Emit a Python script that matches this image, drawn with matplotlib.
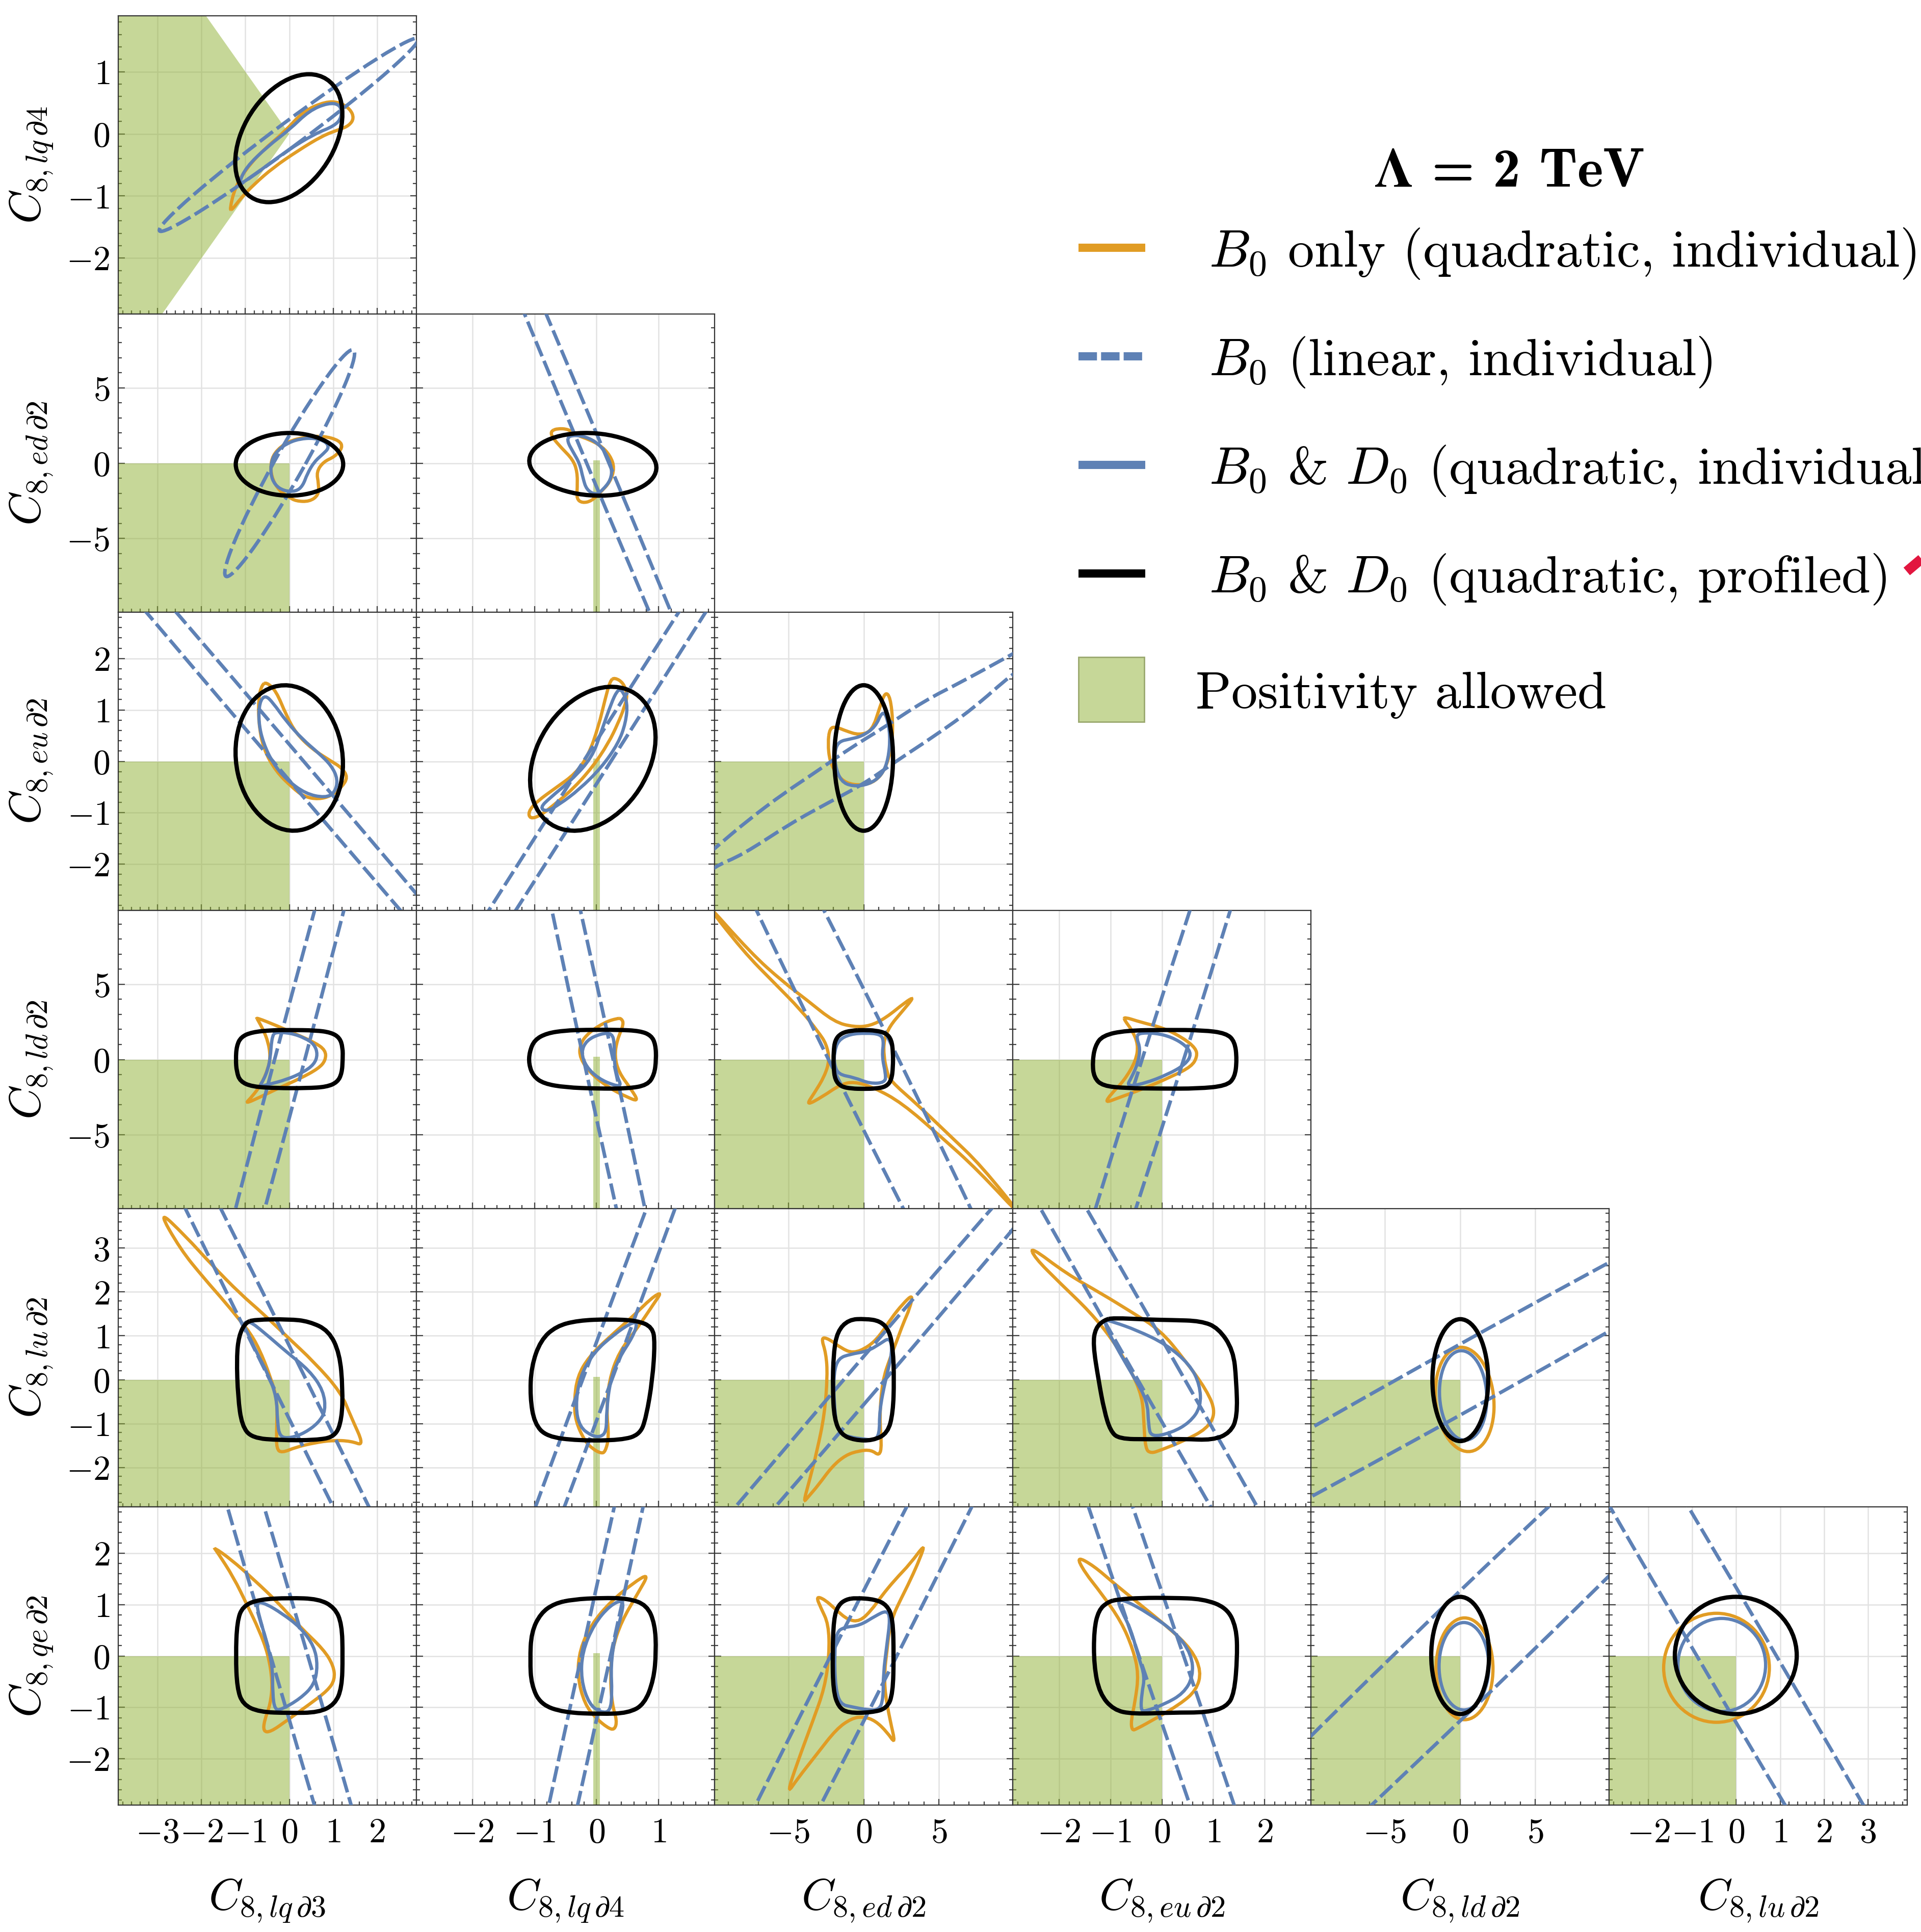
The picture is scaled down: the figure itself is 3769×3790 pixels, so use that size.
import numpy as np
import matplotlib
matplotlib.use('Agg')
import matplotlib.pyplot as plt
from matplotlib.path import Path
from matplotlib.patches import PathPatch, Ellipse, Polygon, Rectangle
from matplotlib.lines import Line2D
from matplotlib.ticker import MultipleLocator, FuncFormatter
from matplotlib.colors import to_rgba

plt.rcParams['mathtext.fontset'] = 'cm'
plt.rcParams['font.family'] = 'cmr10'
plt.rcParams['axes.unicode_minus'] = False

ORANGE = '#E19C24'
BLUE = '#5E81B5'
GREEN = '#8FB032'

# operators on the axes, plot ranges and major tick steps
x_names = [r'lq\,\partial 3', r'lq\,\partial 4', r'ed\,\partial 2', r'eu\,\partial 2', r'ld\,\partial 2', r'lu\,\partial 2']
y_names = [r'lq\,\partial 4', r'ed\,\partial 2', r'eu\,\partial 2', r'ld\,\partial 2', r'lu\,\partial 2', r'qe\,\partial 2']
x_lims = [(-3.9, 2.9), (-2.9, 1.9), (-9.9, 9.9), (-2.9, 2.9), (-9.9, 9.9), (-2.9, 3.9)]
y_lims = [(-2.9, 1.9), (-9.9, 9.9), (-2.9, 2.9), (-9.9, 9.9), (-2.9, 3.9), (-2.9, 2.9)]
x_major = [1, 1, 5, 1, 5, 1]
y_major = [1, 5, 1, 5, 1, 1]

# positivity: cone for (lq3, lq4), thin strip where lq4 = 0, otherwise both <= 0
cone = [(-5.0, 5.0), (0.0, 0.0), (-5.0, -5.0)]
strip_half = 0.05

# B0 only (quadratic, individual) contours
b0_quad = {
    (0, 0): [(-1.36, -1.22), (-1.24, -0.87), (-0.99, -0.57), (-0.61, -0.27), (-0.11, 0.03), (0.33, 0.37),
             (0.83, 0.52), (1.14, 0.51), (1.39, 0.40), (1.48, 0.25), (1.36, 0.13), (1.14, 0.07), (0.76, -0.03),
             (0.2, -0.27), (-0.36, -0.54), (-0.8, -0.81), (-1.11, -1.04), (-1.3, -1.22)],
    (1, 0): [(0.36, 1.73), (0.78, 1.81), (1.15, 1.5), (1.22, 1.03), (1.04, 0.43), (0.78, 0.09), (0.62, -0.58),
             (0.67, -1.38), (0.67, -2.12), (0.46, -2.56), (0.15, -2.52), (-0.01, -2.25), (-0.22, -1.85),
             (-0.38, -1.11), (-0.43, -0.31), (-0.38, 0.5), (-0.17, 1.16), (0.04, 1.5)],
    (1, 1): [(-0.64, 2.3), (-0.45, 2.26), (-0.31, 1.83), (-0.12, 1.57), (0.07, 1.16), (0.22, 0.5), (0.29, -0.31),
             (0.22, -1.24), (0.07, -1.91), (-0.08, -2.52), (-0.23, -2.65), (-0.32, -2.38), (-0.31, -1.65),
             (-0.31, -0.58), (-0.38, 0.23), (-0.57, 1.03), (-0.71, 1.7), (-0.74, 2.1)],
    (2, 0): [(-0.52, 1.54), (-0.3, 1.37), (-0.07, 0.9), (0.15, 0.55), (0.52, 0.24), (0.96, 0.0), (1.19, -0.12),
             (1.34, -0.31), (1.19, -0.51), (0.96, -0.67), (0.67, -0.74), (0.34, -0.69), (0.07, -0.51),
             (-0.3, -0.2), (-0.59, 0.24), (-0.7, 0.75), (-0.7, 1.25), (-0.62, 1.49)],
    (2, 1): [(0.29, 1.63), (0.43, 1.53), (0.5, 1.29), (0.45, 1.06), (0.35, 0.75), (0.19, 0.35), (-0.07, -0.12),
             (-0.39, -0.55), (-0.7, -0.86), (-0.91, -1.06), (-1.07, -1.12), (-1.1, -0.98), (-0.96, -0.78),
             (-0.65, -0.51), (-0.34, -0.24), (-0.13, 0.12), (0.03, 0.67), (0.14, 1.22), (0.22, 1.57)],
    (2, 2): [(-2.25, 0.65), (-1.82, 0.67), (-1.17, 0.59), (-0.3, 0.51), (0.56, 0.59), (1.08, 1.06), (1.43, 1.35),
             (1.77, 1.25), (1.95, 0.75), (1.86, 0.27), (1.43, -0.16), (0.78, -0.39), (-0.09, -0.47),
             (-1.17, -0.43), (-1.82, -0.24), (-2.25, 0.0), (-2.38, 0.35)],
    (3, 0): [(-0.75, 2.79), (-0.27, 2.23), (0.15, 1.69), (0.57, 1.15), (0.83, 0.62), (0.83, -0.05), (0.67, -0.59),
             (0.25, -1.26), (-0.27, -1.93), (-0.69, -2.53), (-1.01, -2.94), (-0.85, -2.47), (-0.64, -1.66),
             (-0.48, -0.59), (-0.43, 0.21), (-0.48, 1.15), (-0.59, 1.96), (-0.72, 2.65)],
    (3, 1): [(0.4, 2.73), (0.44, 2.36), (0.33, 1.29), (0.29, 0.21), (0.36, -0.86), (0.55, -1.93), (0.68, -2.8),
             (0.48, -2.47), (0.22, -1.93), (-0.08, -0.99), (-0.27, 0.08), (-0.27, 1.02), (-0.12, 1.82),
             (0.14, 2.49), (0.33, 2.73)],
    (3, 2): [(3.37, 4.17), (2.53, 3.16), (1.74, 2.23), (1.34, 1.29), (1.34, 0.21), (1.53, -0.72), (1.74, -1.39),
             (3.58, -3.0), (5.68, -5.01), (7.79, -7.02), (10.9, -10.9), (7.53, -7.29), (5.16, -5.15),
             (2.53, -2.87), (0.68, -1.86), (-0.63, -1.46), (-1.55, -1.66), (-2.74, -2.47), (-3.84, -3.07),
             (-3.26, -2.2), (-2.61, -1.13), (-2.26, -0.05), (-2.47, 1.02), (-3.0, 1.82), (-4.18, 3.3),
             (-5.89, 5.04), (-8.0, 7.18), (-10.9, 10.9), (-7.47, 7.05), (-5.37, 5.17), (-3.79, 3.97),
             (-1.95, 2.49), (-0.63, 2.16), (0.42, 2.23), (1.47, 2.76), (2.79, 3.83)],
    (3, 3): [(-0.73, 2.83), (-0.42, 2.49), (0.04, 2.09), (0.42, 1.42), (0.66, 0.75), (0.69, 0.21), (0.58, -0.46),
             (0.19, -1.13), (-0.35, -1.93), (-0.89, -2.6), (-1.1, -2.87), (-1.0, -2.33), (-0.73, -1.39),
             (-0.5, -0.05), (-0.46, 1.02), (-0.58, 1.96), (-0.73, 2.63)],
    (4, 0): [(-3.0, 3.88), (-2.38, 3.29), (-1.75, 2.6), (-1.12, 1.96), (-0.59, 1.5), (-0.06, 0.99), (0.57, 0.4),
             (1.18, -0.29), (1.41, -0.85), (1.71, -1.51), (1.41, -1.4), (0.99, -1.38), (0.57, -1.44),
             (0.15, -1.54), (-0.17, -1.67), (-0.29, -1.58), (-0.29, -1.17), (-0.27, -0.48), (-0.43, 0.07),
             (-0.69, 0.72), (-0.91, 1.09), (-1.06, 1.27), (-1.43, 1.73), (-1.96, 2.33), (-2.48, 2.97)],
    (4, 1): [(1.05, 2.0), (0.92, 1.73), (0.66, 1.18), (0.36, 0.63), (0.2, -0.02), (0.16, -0.71), (0.2, -1.31),
             (0.14, -1.65), (0.07, -1.68), (-0.06, -1.58), (-0.19, -1.4), (-0.34, -0.94), (-0.36, -0.48),
             (-0.31, 0.07), (-0.12, 0.53), (0.22, 0.99), (0.59, 1.45), (0.89, 1.87)],
    (4, 2): [(3.27, 1.95), (3.08, 1.64), (2.61, 1.27), (2.22, 0.9), (1.75, 0.49), (1.25, -0.02), (1.05, -0.85),
             (1.2, -1.5), (1.05, -1.74), (0.5, -1.6), (-0.3, -1.62), (-1.2, -1.72), (-2.1, -1.98), (-3.0, -2.4),
             (-3.7, -2.68), (-4.0, -2.8), (-3.6, -2.3), (-3.1, -1.63), (-2.6, -0.8), (-2.4, 0.1), (-2.5, 0.6),
             (-2.84, 0.97), (-2.3, 0.93), (-1.5, 0.72), (-0.7, 0.6), (0.27, 0.74), (1.05, 0.99), (1.83, 1.4),
             (2.6, 1.73)],
    (4, 3): [(-2.56, 3.04), (-1.86, 2.42), (-1.17, 1.96), (-0.6, 1.55), (-0.03, 1.13), (0.42, 0.49), (0.88, -0.25),
             (1.05, -0.75), (0.88, -1.12), (0.42, -1.4), (-0.03, -1.61), (-0.21, -1.68), (-0.32, -1.58),
             (-0.35, -0.94), (-0.38, -0.39), (-0.6, 0.21), (-0.95, 0.9), (-1.4, 1.55), (-1.97, 2.19),
             (-2.48, 2.79)],
    (5, 0): [(-1.73, 2.12), (-1.33, 1.88), (-0.8, 1.48), (-0.27, 1.05), (0.25, 0.56), (0.78, 0.13), (1.01, -0.19),
             (1.04, -0.46), (0.88, -0.67), (0.46, -0.94), (-0.06, -1.26), (-0.43, -1.48), (-0.59, -1.47),
             (-0.57, -1.26), (-0.43, -0.94), (-0.38, -0.51), (-0.48, 0.03), (-0.69, 0.51), (-0.96, 0.99),
             (-1.27, 1.53), (-1.64, 2.02)],
    (5, 1): [(0.85, 1.61), (0.66, 1.21), (0.4, 0.67), (0.25, 0.13), (0.22, -0.4), (0.25, -0.94), (0.33, -1.26),
             (0.29, -1.44), (0.18, -1.4), (-0.01, -1.21), (-0.19, -0.94), (-0.31, -0.4), (-0.27, 0.13),
             (-0.08, 0.62), (0.22, 1.05), (0.59, 1.42)],
    (5, 2): [(4.07, 2.18), (3.76, 1.91), (3.11, 1.48), (2.46, 1.1), (1.94, 0.78), (1.68, 0.46), (1.55, 0.1),
             (1.38, -0.3), (1.42, -0.73), (1.76, -1.26), (2.12, -1.72), (1.55, -1.48), (0.78, -1.26), (0.0, -1.18),
             (-0.78, -1.21), (-1.81, -1.42), (-3.11, -1.91), (-4.4, -2.39), (-5.1, -2.69), (-4.4, -2.07),
             (-3.37, -1.26), (-2.59, -0.62), (-2.28, 0.03), (-2.33, 0.62), (-2.85, 0.94), (-3.16, 1.16),
             (-2.59, 1.1), (-1.81, 0.89), (-1.04, 0.7), (-0.26, 0.67), (0.52, 0.89), (1.17, 1.16), (2.07, 1.48),
             (3.11, 1.8)],
    (5, 3): [(-1.66, 1.94), (-1.32, 1.75), (-0.94, 1.42), (-0.41, 0.99), (0.12, 0.56), (0.58, 0.13), (0.77, -0.3),
             (0.67, -0.67), (0.35, -0.94), (-0.11, -1.21), (-0.49, -1.42), (-0.58, -1.45), (-0.6, -1.26),
             (-0.52, -0.89), (-0.45, -0.35), (-0.56, 0.13), (-0.79, 0.67), (-1.17, 1.21), (-1.51, 1.64)],
}
# (cx, cy, width, height, angle)
b0_quad_ell = {
    (4, 4): (0.31, -0.45, 3.92, 2.35, -6.8),
    (5, 4): (0.3, -0.25, 3.78, 1.98, 0.0),
    (5, 5): (-0.45, -0.23, 2.41, 2.12, 0.0),
}

# B0 & D0 (quadratic, individual) contours
b0d0_quad = {
    (0, 0): [(-1.15, -0.8), (-0.99, -0.54), (-0.49, -0.2), (0.01, 0.07), (0.45, 0.37), (0.89, 0.5), (1.17, 0.47),
             (1.2, 0.27), (1.04, 0.13), (0.58, 0.0), (-0.05, -0.27), (-0.68, -0.6), (-1.11, -0.81)],
    (1, 0): [(0.57, 1.67), (0.83, 1.43), (0.91, 1.03), (0.78, 0.63), (0.57, 0.09), (0.41, -0.71), (0.31, -1.51),
             (0.15, -1.89), (-0.12, -1.85), (-0.33, -1.45), (-0.43, -0.71), (-0.4, 0.23), (-0.27, 0.83),
             (-0.06, 1.3), (0.23, 1.61)],
    (1, 1): [(-0.45, 1.83), (-0.23, 1.83), (-0.01, 1.43), (0.14, 0.76), (0.25, -0.31), (0.23, -1.11), (0.1, -1.78),
             (-0.01, -2.12), (-0.16, -1.78), (-0.22, -0.98), (-0.27, -0.04), (-0.38, 0.76), (-0.47, 1.43)],
    (2, 0): [(-0.55, 1.29), (-0.37, 1.14), (-0.07, 0.78), (0.3, 0.43), (0.67, 0.16), (0.96, -0.08), (1.11, -0.35),
             (1.04, -0.61), (0.82, -0.71), (0.37, -0.63), (-0.07, -0.35), (-0.37, -0.04), (-0.59, 0.35),
             (-0.7, 0.75), (-0.68, 1.15)],
    (2, 1): [(0.4, 1.41), (0.5, 1.14), (0.47, 0.75), (0.35, 0.35), (0.08, -0.12), (-0.28, -0.55), (-0.6, -0.84),
             (-0.81, -0.98), (-0.91, -0.9), (-0.75, -0.71), (-0.39, -0.35), (-0.07, 0.08), (0.08, 0.59),
             (0.24, 1.14), (0.33, 1.37)],
    (2, 2): [(-1.6, 0.39), (-0.95, 0.43), (-0.09, 0.49), (0.78, 0.67), (1.21, 0.96), (1.51, 0.9), (1.77, 0.51),
             (1.64, 0.04), (1.21, -0.27), (0.35, -0.45), (-0.73, -0.49), (-1.51, -0.39), (-1.9, -0.08),
             (-1.9, 0.24)],
    (3, 0): [(-0.33, 1.82), (0.04, 1.76), (0.36, 1.42), (0.57, 1.02), (0.65, 0.35), (0.57, -0.32), (0.31, -0.86),
             (-0.06, -1.33), (-0.48, -1.66), (-0.69, -1.8), (-0.59, -1.39), (-0.48, -0.59), (-0.43, 0.21),
             (-0.41, 1.02), (-0.38, 1.55)],
    (3, 1): [(0.25, 1.76), (0.29, 1.02), (0.28, -0.05), (0.33, -1.13), (0.4, -1.73), (0.29, -1.73), (0.03, -1.26),
             (-0.17, -0.46), (-0.25, 0.48), (-0.16, 1.29), (0.07, 1.72)],
    (3, 2): [(-1.68, 1.29), (-0.89, 1.69), (0.16, 1.76), (1.08, 1.69), (1.34, 1.29), (1.21, 0.21), (1.47, -0.99),
             (1.42, -1.53), (0.42, -1.6), (-0.63, -1.19), (-1.68, -0.99), (-1.95, -0.32), (-1.95, 0.48)],
    (3, 3): [(-0.46, 1.76), (-0.12, 1.76), (0.19, 1.49), (0.46, 0.95), (0.58, 0.35), (0.46, -0.32), (0.12, -0.99),
             (-0.35, -1.6), (-0.69, -1.8), (-0.58, -1.13), (-0.46, -0.19), (-0.42, 0.75), (-0.49, 1.42)],
    (4, 0): [(-1.06, 1.28), (-0.91, 1.34), (-0.59, 1.09), (-0.06, 0.63), (0.46, 0.21), (0.78, -0.25),
             (0.83, -0.71), (0.67, -0.98), (0.36, -1.21), (0.04, -1.33), (-0.22, -1.31), (-0.27, -0.94),
             (-0.29, -0.39), (-0.48, 0.12), (-0.75, 0.63), (-0.96, 1.09)],
    (4, 1): [(0.66, 1.31), (0.59, 0.99), (0.36, 0.49), (0.22, -0.02), (0.16, -0.71), (0.16, -1.17), (0.07, -1.31),
             (-0.08, -1.28), (-0.27, -1.08), (-0.34, -0.62), (-0.27, 0.07), (-0.04, 0.63), (0.29, 1.04),
             (0.55, 1.29)],
    (4, 2): [(-1.67, 0.49), (-0.89, 0.58), (0.27, 0.65), (1.05, 0.81), (1.75, 0.97), (1.91, 0.63), (1.44, -0.02),
             (1.05, -0.71), (1.05, -1.26), (0.66, -1.38), (-0.12, -1.35), (-0.89, -1.31), (-1.75, -1.21),
             (-1.98, -0.48), (-1.98, 0.17)],
    (4, 3): [(-1.12, 1.37), (-0.95, 1.32), (-0.49, 1.13), (0.08, 0.81), (0.54, 0.35), (0.74, -0.11), (0.76, -0.62),
             (0.54, -0.98), (0.19, -1.21), (-0.21, -1.31), (-0.26, -1.03), (-0.28, -0.48), (-0.55, 0.07),
             (-0.83, 0.63), (-1.06, 1.13)],
    (5, 0): [(-0.75, 1.05), (-0.54, 1.02), (-0.17, 0.83), (0.25, 0.56), (0.57, 0.19), (0.65, -0.19), (0.57, -0.56),
             (0.25, -0.83), (-0.17, -1.04), (-0.33, -1.05), (-0.38, -0.73), (-0.38, -0.19), (-0.54, 0.35),
             (-0.69, 0.78)],
    (5, 1): [(0.44, 1.1), (0.4, 0.78), (0.29, 0.35), (0.23, -0.19), (0.25, -0.73), (0.22, -1.08), (0.07, -1.1),
             (-0.12, -0.94), (-0.25, -0.46), (-0.23, 0.08), (-0.04, 0.62), (0.22, 0.99)],
    (5, 2): [(-1.81, 0.46), (-1.3, 0.56), (-0.26, 0.59), (0.78, 0.78), (1.55, 0.89), (1.76, 0.73), (1.55, 0.24),
             (1.3, -0.35), (1.3, -0.83), (1.04, -1.05), (0.26, -1.05), (-0.78, -0.99), (-1.55, -0.94),
             (-1.87, -0.62), (-1.94, 0.03)],
    (5, 3): [(-0.86, 1.08), (-0.71, 1.08), (-0.26, 0.83), (0.27, 0.46), (0.58, 0.03), (0.61, -0.4), (0.42, -0.73),
             (0.05, -0.94), (-0.33, -1.08), (-0.41, -1.05), (-0.39, -0.73), (-0.33, -0.4), (-0.45, -0.03),
             (-0.6, 0.51), (-0.79, 0.89)],
}
b0d0_quad_ell = {
    (4, 4): (0.21, -0.36, 3.15, 2.03, -5.0),
    (5, 4): (0.26, -0.2, 3.3, 1.7, 0.0),
    (5, 5): (-0.33, -0.175, 2.0, 1.81, 0.0),
}

# B0 & D0 (quadratic, profiled) contours
profiled = {
    (3, 0): [(0.0, 1.96), (0.6, 1.94), (0.95, 1.8), (1.15, 1.45), (1.22, 0.8), (1.22, 0.0), (1.2, -0.9),
             (1.1, -1.5), (0.85, -1.82), (0.4, -1.9), (-0.3, -1.9), (-0.85, -1.8), (-1.12, -1.45), (-1.2, -0.8),
             (-1.22, 0.0), (-1.2, 0.9), (-1.1, 1.5), (-0.85, 1.82), (-0.4, 1.95)],
    (3, 1): [(-0.2, 1.97), (0.35, 1.98), (0.7, 1.9), (0.88, 1.6), (0.95, 1.0), (0.96, 0.0), (0.93, -1.0),
             (0.82, -1.7), (0.5, -1.93), (0.0, -1.93), (-0.5, -1.85), (-0.85, -1.6), (-1.02, -1.1), (-1.09, -0.3),
             (-1.08, 0.5), (-1.0, 1.3), (-0.8, 1.75), (-0.5, 1.93)],
    (3, 2): [(0.0, 1.96), (0.8, 1.93), (1.5, 1.75), (1.85, 1.3), (1.95, 0.5), (1.95, -0.5), (1.85, -1.35),
             (1.5, -1.8), (0.8, -1.93), (0.0, -1.95), (-0.8, -1.93), (-1.5, -1.8), (-1.9, -1.35), (-2.0, -0.5),
             (-2.0, 0.5), (-1.9, 1.3), (-1.5, 1.75), (-0.8, 1.93)],
    (3, 3): [(0.1, 1.97), (0.8, 1.95), (1.25, 1.75), (1.42, 1.2), (1.46, 0.0), (1.42, -1.2), (1.25, -1.75),
             (0.7, -1.93), (0.0, -1.93), (-0.7, -1.9), (-1.15, -1.75), (-1.32, -1.2), (-1.35, -0.2), (-1.3, 0.9),
             (-1.15, 1.6), (-0.7, 1.93)],
    (4, 0): [(-0.8, 1.37), (0.0, 1.38), (0.45, 1.33), (0.9, 1.12), (1.15, 0.6), (1.22, -0.2), (1.2, -0.9),
             (1.05, -1.3), (0.6, -1.38), (-0.2, -1.38), (-0.85, -1.33), (-1.08, -1.05), (-1.17, -0.4),
             (-1.2, 0.5), (-1.15, 1.0), (-1.0, 1.3)],
    (4, 1): [(-0.3, 1.35), (0.2, 1.38), (0.65, 1.35), (0.9, 1.2), (0.94, 0.85), (0.9, 0.0), (0.8, -0.85),
             (0.7, -1.25), (0.4, -1.38), (-0.3, -1.39), (-0.8, -1.3), (-1.0, -1.0), (-1.07, -0.4), (-1.05, 0.3),
             (-0.9, 0.9), (-0.65, 1.22)],
    (4, 2): [(-1.0, 1.37), (0.1, 1.39), (1.1, 1.34), (1.7, 1.12), (1.95, 0.7), (2.02, 0.0), (1.95, -0.75),
             (1.6, -1.22), (0.6, -1.39), (-0.6, -1.38), (-1.5, -1.25), (-1.95, -0.9), (-2.06, -0.2), (-2.0, 0.6),
             (-1.75, 1.1)],
    (4, 3): [(-0.95, 1.41), (-0.26, 1.37), (0.19, 1.36), (0.76, 1.34), (1.1, 1.18), (1.39, 0.67), (1.45, -0.02),
             (1.47, -0.85), (1.33, -1.21), (0.99, -1.38), (0.42, -1.35), (-0.26, -1.36), (-0.83, -1.35),
             (-1.0, -1.17), (-1.12, -0.71), (-1.23, -0.02), (-1.34, 0.81), (-1.29, 1.18), (-1.12, 1.36)],
    (5, 0): [(0.0, 1.13), (0.67, 1.11), (1.04, 0.94), (1.2, 0.62), (1.22, 0.0), (1.2, -0.62), (1.04, -0.94),
             (0.67, -1.1), (0.0, -1.11), (-0.69, -1.09), (-1.06, -0.94), (-1.19, -0.62), (-1.22, 0.0),
             (-1.19, 0.67), (-1.06, 0.97), (-0.69, 1.1)],
    (5, 1): [(-0.38, 1.1), (0.07, 1.13), (0.51, 1.12), (0.81, 0.99), (0.94, 0.62), (0.96, 0.08), (0.92, -0.46),
             (0.77, -0.94), (0.51, -1.11), (0.07, -1.13), (-0.53, -1.1), (-0.9, -0.94), (-1.05, -0.56),
             (-1.07, -0.08), (-1.05, 0.46), (-0.9, 0.83), (-0.68, 1.02)],
    (5, 2): [(-0.52, 1.13), (0.78, 1.1), (1.55, 0.99), (1.94, 0.73), (2.0, 0.0), (1.94, -0.73), (1.55, -1.02),
             (0.52, -1.1), (-1.04, -1.11), (-1.68, -0.99), (-2.02, -0.67), (-2.07, 0.0), (-1.99, 0.73),
             (-1.68, 0.99), (-1.17, 1.1)],
    (5, 3): [(-0.86, 1.1), (-0.41, 1.13), (0.2, 1.13), (0.8, 1.11), (1.26, 0.94), (1.45, 0.56), (1.47, 0.0),
             (1.41, -0.73), (1.26, -0.99), (0.88, -1.1), (0.2, -1.1), (-0.56, -1.13), (-0.94, -1.05),
             (-1.21, -0.73), (-1.32, -0.19), (-1.32, 0.51), (-1.23, 0.89), (-1.05, 1.05)],
}
profiled_ell = {
    (0, 0): (-0.01, -0.07, 2.68, 1.74, 32.7),
    (1, 0): (0.005, -0.08, 2.45, 4.16, 0.0),
    (1, 1): (-0.06, -0.08, 4.17, 2.03, -86.0),
    (2, 0): (0.0, 0.065, 2.854, 2.42, -75.4),
    (2, 1): (-0.06, 0.05, 2.912, 1.854, 69.1),
    (2, 2): (0.0, 0.065, 3.9, 2.83, 0.0),
    (4, 4): (0.02, -0.01, 3.7, 2.78, 0.0),
    (5, 4): (0.01, 0.01, 3.84, 2.28, 0.0),
    (5, 5): (-0.01, 0.01, 2.78, 2.28, 0.0),
}

# B0 (linear, individual) contours: ellipses, and one bent band
linear_ell = {
    (0, 0): (-0.01, -0.015, 6.66, 0.43, 27.6),
    (1, 0): (0.01, 0.0, 15.33, 0.73, 79.2),
    (1, 1): (0.02, 0.0, 80, 0.358, 95.8),
    (2, 0): (-0.02, 0.0, 40, 0.495, -45.0),
    (2, 1): (0.01, 0.0, 40, 0.39, 62.2),
    (3, 0): (0.01, 0.0, 80, 0.687, 84.8),
    (3, 1): (0.03, 0.0, 80, 0.474, 93.0),
    (3, 2): (0.0, 0.0, 80, 4.18, 116.3),
    (3, 3): (0.02, 0.0, 80, 0.806, 84.7),
    (4, 0): (-0.03, 0.0, 40, 0.743, 116.4),
    (4, 1): (0.01, 0.0, 40, 0.456, 75.3),
    (4, 2): (0.05, 0.0, 60, 1.02, 21.8),
    (4, 3): (-0.01, 0.0, 40, 0.824, 116.0),
    (4, 4): (0.0, 0.0, 80, 1.59, 10.8),
    (5, 0): (0.0, 0.0, 40, 0.804, 108.9),
    (5, 1): (-0.01, 0.0, 40, 0.462, 79.7),
    (5, 2): (0.0, 0.0, 60, 2.2, 29.9),
    (5, 3): (-0.01, 0.0, 40, 0.824, 108.8),
    (5, 4): (0.0, 0.0, 80, 2.436, 15.7),
    (5, 5): (0.01, 0.0, 40, 1.494, 124.6),
}
linear_band = {
    (2, 2): [(11.5, 2.35), (9.91, 2.09), (6.6, 1.56), (4.05, 1.18), (1.25, 0.64), (-1.04, 0.23), (-3.08, -0.19),
             (-5.25, -0.61), (-7.67, -1.14), (-9.96, -1.71), (-11.5, -2.1), (-12.2, -2.3), (-11.5, -2.45),
             (-9.96, -2.05), (-8.05, -1.82), (-4.87, -1.21), (-2.32, -0.8), (0.0, -0.44), (2.14, 0.0),
             (4.69, 0.49), (7.24, 1.02), (9.91, 1.71), (11.5, 2.0), (12.2, 2.2)],
}

legend_labels = [r'$B_0$ only (quadratic, individual)', r'$B_0$ (linear, individual)',
                 r'$B_0$ & $D_0$ (quadratic, individual)', r'$B_0$ & $D_0$ (quadratic, profiled)',
                 'Positivity allowed']


def closed_curve(points):
    # closed quadratic B-spline through the midpoints of the vertex list
    p = np.asarray(points, dtype=float)
    mid = (p + np.roll(p, -1, axis=0)) / 2
    verts = [mid[-1]]
    codes = [Path.MOVETO]
    for a, m in zip(p, mid):
        verts += [a, m]
        codes += [Path.CURVE3, Path.CURVE3]
    return Path(verts, codes)


def add_curve(ax, pts, **kw):
    ax.add_patch(PathPatch(closed_curve(pts), fill=False, **kw))


def add_ellipse(ax, e, **kw):
    cx, cy, w, h, ang = e
    ax.add_patch(Ellipse((cx, cy), w, h, angle=ang, fill=False, **kw))


W, H = 3769, 3790
fig = plt.figure(figsize=(W / 200, H / 200), dpi=200)
fig.patch.set_facecolor('white')

x0, y0, step, size = 232, 31, 585, 585
fill_col = to_rgba(GREEN, 0.5)
dash = (0, (4.6, 1.4))

for r in range(6):
    for c in range(r + 1):
        left = (x0 + step * c) / W
        bottom = 1 - (y0 + step * r + size) / H
        ax = fig.add_axes([left, bottom, size / W, size / H])
        xl, yl = x_lims[c], y_lims[r]
        ax.set_xlim(xl)
        ax.set_ylim(yl)
        ax.set_axisbelow(True)
        ax.grid(True, which='major', color='#e2e2e2', lw=0.9)

        # positivity region
        if r == 0 and c == 0:
            ax.add_patch(Polygon(cone, closed=True, facecolor=fill_col, edgecolor='none', zorder=1))
        elif c == 1:
            top = 0.01 * (yl[1] - yl[0])
            ax.add_patch(Rectangle((-strip_half, yl[0] - 1), 2 * strip_half, top - yl[0] + 1,
                                   facecolor=fill_col, edgecolor='none', zorder=1))
        else:
            ax.add_patch(Rectangle((xl[0] - 1, yl[0] - 1), -xl[0] + 1, -yl[0] + 1,
                                   facecolor=fill_col, edgecolor='none', zorder=1))

        key = (r, c)
        if key in b0_quad:
            add_curve(ax, b0_quad[key], edgecolor=ORANGE, lw=2.3, zorder=2)
        if key in b0_quad_ell:
            add_ellipse(ax, b0_quad_ell[key], edgecolor=ORANGE, lw=2.3, zorder=2)
        if key in linear_ell:
            add_ellipse(ax, linear_ell[key], edgecolor=BLUE, lw=2.5, linestyle=dash, zorder=3)
        if key in linear_band:
            add_curve(ax, linear_band[key], edgecolor=BLUE, lw=2.5, linestyle=dash, zorder=3)
        if key in b0d0_quad:
            add_curve(ax, b0d0_quad[key], edgecolor=BLUE, lw=2.3, zorder=4)
        if key in b0d0_quad_ell:
            add_ellipse(ax, b0d0_quad_ell[key], edgecolor=BLUE, lw=2.3, zorder=4)
        if key in profiled:
            add_curve(ax, profiled[key], edgecolor='black', lw=3.0, zorder=5)
        if key in profiled_ell:
            add_ellipse(ax, profiled_ell[key], edgecolor='black', lw=3.0, zorder=5)

        ax.xaxis.set_major_locator(MultipleLocator(x_major[c]))
        ax.xaxis.set_minor_locator(MultipleLocator(x_major[c] / 5))
        ax.yaxis.set_major_locator(MultipleLocator(y_major[r]))
        ax.yaxis.set_minor_locator(MultipleLocator(y_major[r] / 5))
        fmt = FuncFormatter(lambda v, p: f'${v:.0f}$')
        ax.xaxis.set_major_formatter(fmt)
        ax.yaxis.set_major_formatter(fmt)
        ax.tick_params(which='both', direction='in', top=False, bottom=True, left=True, right=True,
                       color='#444444', width=0.8, labelsize=24.5,
                       labelleft=(c == 0), labelbottom=(r == 5))
        ax.tick_params(which='major', length=4.5)
        ax.tick_params(which='minor', length=2.4)
        ax.tick_params(axis='y', pad=6)
        ax.tick_params(axis='x', pad=9)
        for s in ax.spines.values():
            s.set_color('#333333')
            s.set_linewidth(0.8)

# axis titles
for c in range(6):
    fig.text((x0 + step * c + size / 2) / W, 1 - 3729 / H, f'$C_{{8,{x_names[c]}}}$',
             ha='center', va='center', fontsize=31)
for r in range(6):
    fig.text(62 / W, 1 - (y0 + step * r + size / 2) / H, f'$C_{{8,{y_names[r]}}}$',
             ha='center', va='center', rotation=90, fontsize=31)

# legend
fig.text(2961 / W, 1 - 365 / H, r'$\mathbf{\Lambda}$ = 2 TeV', ha='center', va='baseline',
         fontsize=39, family='cmb10', math_fontfamily='stix')
handle_x = [2116 / W, 2247 / W]
handle_y = [486, 699, 912, 1125]
handle_styles = [dict(color=ORANGE), dict(color=BLUE, dashes=(2.25, 0.5)),
                 dict(color=BLUE), dict(color='black')]
for y, st, lab in zip(handle_y, handle_styles, legend_labels[:4]):
    fig.add_artist(Line2D(handle_x, [1 - y / H] * 2, lw=5.8, solid_capstyle='butt',
                          dash_capstyle='butt', transform=fig.transFigure, **st))
    fig.text(2372 / W, 1 - (y + 37) / H, lab, ha='left', va='baseline', fontsize=37)
fig.add_artist(Rectangle((2116 / W, 1 - 1416 / H), 129 / W, 127 / H, facecolor=fill_col,
                         edgecolor='#9aa86e', lw=1.0, transform=fig.transFigure))
fig.text(2346 / W, 1 - 1389 / H, legend_labels[4], ha='left', va='baseline', fontsize=37)

# red stroke at the right edge
fig.add_artist(Line2D([3741 / W, 3780 / W], [1 - 1121 / H, 1 - 1088 / H], lw=7, color='#E2163F',
                      solid_capstyle='butt', transform=fig.transFigure))

fig.savefig('out.png', dpi=200)
